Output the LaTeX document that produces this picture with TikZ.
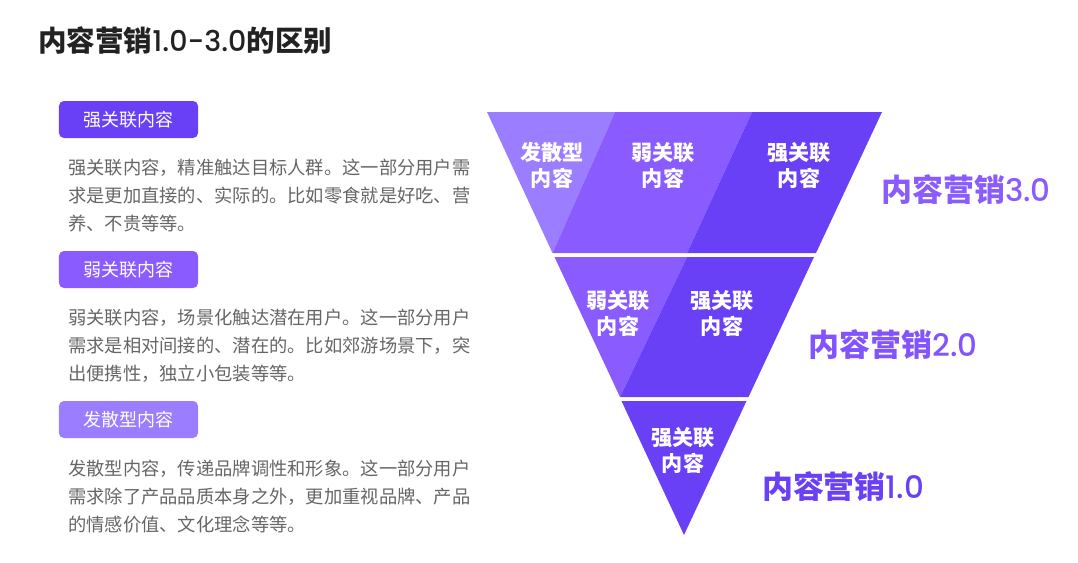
\documentclass[tikz,border=0pt]{standalone}
\usepackage{fontspec}
\newfontfamily\cjk{Noto Sans CJK SC}
\newfontfamily\popfont{Poppins}[BoldFont={Poppins Medium}]
\definecolor{lightpurple}{HTML}{9B7DFF}
\definecolor{midpurple}{HTML}{8A5CFF}
\definecolor{darkpurple}{HTML}{6A40F7}
\definecolor{bodygray}{HTML}{666666}
\definecolor{titleblack}{HTML}{222222}

\begin{document}
\begin{tikzpicture}[x=0.025cm, y=-0.025cm,
    tag/.style={rounded corners=3.5pt, minimum width=3.475cm, minimum height=0.925cm, inner sep=0, text=white, font=\cjk\fontsize{12.8pt}{15pt}\selectfont},
    body/.style={anchor=west, align=left, inner sep=0, text=bodygray, font=\cjk\fontsize{13pt}{19.9pt}\selectfont},
    inlabel/.style={align=center, inner sep=0, text=white, font=\cjk\bfseries\fontsize{15pt}{18.5pt}\selectfont},
    level/.style={inner sep=0, font=\cjk\bfseries\fontsize{22pt}{25pt}\selectfont}]
            %\draw[lightgray] (0, 0) grid (1078, 562);
            \useasboundingbox (0, 0) rectangle (1078, 562);
            \node[anchor=west, inner sep=0, text=titleblack, font=\cjk\bfseries\fontsize{20.3pt}{24pt}\selectfont] (title) at (38, 41) {内容营销{\popfont 1.0-3.0}的区别};

            \node[tag, fill=darkpurple] (strongtag) at (128.5, 119.5) {强关联内容};
            \node[tag, fill=midpurple] (weaktag) at (128.5, 269.5) {弱关联内容};
            \node[tag, fill=lightpurple] (spreadtag) at (128.5, 419.5) {发散型内容};
            \node[body] (strongtext) at (68, 196) {强关联内容，精准触达目标人群。这一部分用户需\\求是更加直接的、实际的。比如零食就是好吃、营\\养、不贵等等。};
            \node[body] (weaktext) at (68, 346) {弱关联内容，场景化触达潜在用户。这一部分用户\\需求是相对间接的、潜在的。比如郊游场景下，突\\出便携性，独立小包装等等。};
            \node[body] (spreadtext) at (68, 497) {发散型内容，传递品牌调性和形象。这一部分用户\\需求除了产品品质本身之外，更加重视品牌、产品\\的情感价值、文化理念等等。};

            \fill[lightpurple] (487, 112) -- (615, 112) -- (552.5, 253) -- cycle;
            \fill[midpurple] (615, 112) -- (752, 112) -- (687, 253) -- (552.5, 253) -- cycle;
            \fill[darkpurple] (752, 112) -- (882, 112) -- (816, 253) -- (687, 253) -- cycle;
            \fill[midpurple] (554.5, 257) -- (687, 257) -- (620, 397) -- cycle;
            \fill[darkpurple] (687, 257) -- (814, 257) -- (748.5, 397) -- (620, 397) -- cycle;
            \fill[darkpurple] (621.5, 401) -- (746.5, 401) -- (684, 535) -- cycle;

            \node[inlabel] (spread3) at (552, 165) {发散型\\内容};
            \node[inlabel] (weak3) at (663, 165) {弱关联\\内容};
            \node[inlabel] (strong3) at (799, 165) {强关联\\内容};
            \node[inlabel] (weak2) at (618, 313) {弱关联\\内容};
            \node[inlabel] (strong2) at (722, 313) {强关联\\内容};
            \node[inlabel] (strong1) at (683, 450) {强关联\\内容};

            \node[level, text=midpurple] (level3) at (966, 190) {内容营销{\popfont 3.0}};
            \node[level, text=midpurple!70!darkpurple] (level2) at (893, 345) {内容营销{\popfont 2.0}};
            \node[level, text=darkpurple] (level1) at (843, 487) {内容营销{\popfont 1.0}};
        \end{tikzpicture}
\end{document}
